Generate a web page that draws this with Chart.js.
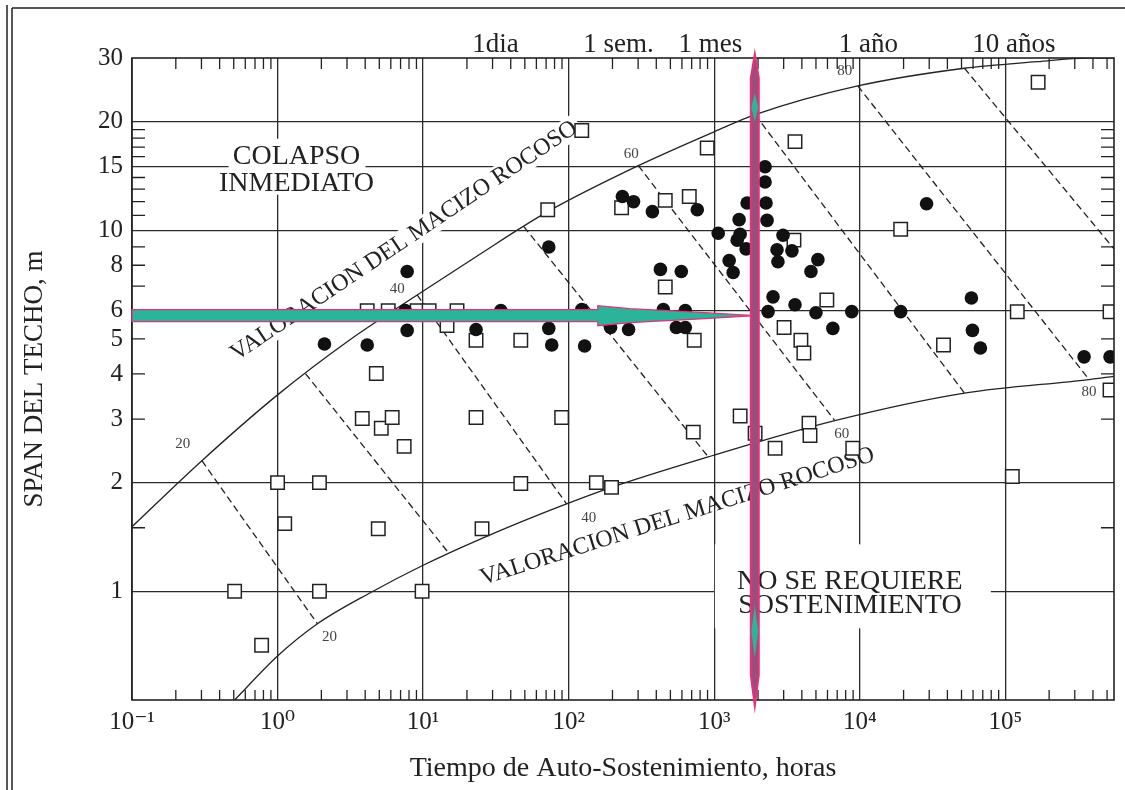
<!DOCTYPE html>
<html>
<head>
<meta charset="utf-8">
<title>Tiempo de Auto-Sostenimiento</title>
<script src="https://cdn.jsdelivr.net/npm/chart.js@4.4.1/dist/chart.umd.min.js"></script>
<style>
  html, body { margin: 0; padding: 0; background: #fff; }
  #wrap { position: relative; width: 1125px; height: 790px; }
</style>
</head>
<body>
<div id="wrap"><canvas id="chart"></canvas></div>
<script>
  // casos sin sostenimiento (cuadrados) y con sostenimiento (circulos)
  const squareHours = [123, 895, 3590, 168000, 71.8, 231, 461, 674, 19100, 3530, 5940, 120800, 524000, 3020, 3940, 4130, 37600, 524000, 1507, 1910, 4480, 4550, 2620, 8950, 111700, 461, 4.13, 5.76, 9.1, 11.0, 17.1, 14.6, 23.1, 46.9, 729, 4.77, 3.82, 5.16, 6.13, 7.41, 23.1, 89.5, 718, 46.9, 155, 197, 1.0, 1.94, 1.12, 4.92, 0.507, 1.94, 0.777, 25.4, 9.84];
  const squareSpan = [18.9, 16.9, 17.6, 25.7, 11.4, 11.55, 12.1, 12.4, 10.06, 9.39, 6.41, 5.95, 5.95, 5.38, 4.96, 4.57, 4.81, 3.61, 3.06, 2.74, 2.92, 2.70, 2.49, 2.49, 2.08, 6.96, 5.99, 5.99, 5.99, 5.99, 5.99, 5.45, 4.96, 4.96, 4.96, 4.01, 3.01, 2.83, 3.03, 2.52, 3.03, 3.03, 2.76, 1.99, 2.0, 1.94, 2.0, 2.0, 1.54, 1.49, 1.0, 1.0, 0.709, 1.49, 1.0];
  const circleHours = [234, 279, 376, 765, 2235, 2235, 1683, 2270, 1483, 2306, 1065, 1507, 1438, 1656, 73, 1267, 1349, 2970, 2700, 3420, 2740, 5155, 4620, 28770, 2535, 2344, 3590, 5000, 8810, 6530, 19090, 58480, 59430, 67400, 347600, 524000, 7.77, 427, 594, 7.53, 34.2, 123, 447, 633, 7.77, 23.1, 73, 194, 258, 549, 633, 4.13, 76.5, 128.7, 2.10];
  const circleSpan = [12.4, 12.0, 11.26, 11.4, 15.0, 13.6, 11.9, 11.9, 10.7, 10.65, 9.81, 9.75, 9.39, 8.88, 8.99, 8.24, 7.64, 9.69, 8.83, 8.77, 8.18, 8.29, 7.69, 11.84, 6.54, 5.95, 6.22, 5.91, 5.95, 5.35, 5.95, 6.49, 5.28, 4.72, 4.46, 4.46, 7.69, 7.79, 7.69, 5.99, 5.99, 6.03, 6.03, 5.99, 5.28, 5.31, 5.35, 5.38, 5.31, 5.38, 5.38, 4.81, 4.81, 4.78, 4.84];

  // limites de valoracion del macizo rocoso
  const upperHours = [0.1, 0.302, 1.0, 3.11, 9.1, 23.1, 71.8, 301, 1016, 1910, 9690, 52400, 165600, 364600, 558000];
  const upperSpan = [1.51, 2.30, 3.50, 4.96, 6.62, 8.45, 11.26, 15.1, 18.8, 20.9, 25.1, 28.1, 29.3, 30, 30];
  const lowerHours = [0.507, 1.0, 1.88, 4.40, 9.84, 25.4, 85.4, 197, 910, 6742, 52400, 376000, 558000];
  const lowerSpan = [0.5, 0.662, 0.813, 0.994, 1.177, 1.402, 1.713, 1.941, 2.357, 2.97, 3.54, 3.86, 3.94];

  // lineas de RMR constante
  const rmrValues = [20, 30, 40, 50, 60, 70, 80, 90];
  const rmrTopHours = [0.302, 1.555, 9.1, 49.2, 301, 1910, 9690, 52400];
  const rmrTopSpan = [2.30, 4.01, 6.62, 10.24, 15.1, 20.9, 25.1, 28.1];
  const rmrLowHours = [1.88, 15.07, 96.9, 910, 6742, 52400, 376000, 558000];
  const rmrLowSpan = [0.813, 1.273, 1.745, 2.357, 2.97, 3.54, 3.86, 8.88];

  const xTickValues = [0.1, 1, 10, 100, 1000, 10000, 100000];
  const xTickLabels = ['10⁻¹', '10⁰', '10¹', '10²', '10³', '10⁴', '10⁵'];
  const yTickValues = [1, 2, 3, 4, 5, 6, 8, 10, 15, 20, 30];
  const yGridValues = [1, 2, 6, 10, 15, 20];
  const yTickMarks = [1.5, 3, 4, 5, 7, 8, 9, 11, 12, 13, 14, 16, 17, 18, 19];

  const timeHours = [24, 168, 720, 8760, 87600];
  const timeLabels = ['1dia', '1 sem.', '1 mes', '1 año', '10 años'];

  // ejemplo marcado: 6 m de span, ~2000 horas
  const caseHours = 1900;
  const caseSpan = 5.8;

  const serif = "'Liberation Serif', 'DejaVu Serif', serif";
  const ink = '#222';
  const teal = '#2cb49a';
  const pink = '#e2337a';

  function font(size) {
    return size + 'px ' + serif;
  }

  function toPoints(xs, ys) {
    return xs.map((x, i) => ({ x, y: ys[i] }));
  }

  function lineSet(data, dashed) {
    return {
      data,
      showLine: true,
      pointRadius: 0,
      borderColor: ink,
      borderWidth: 1.3,
      borderDash: dashed ? [7, 4] : [],
      cubicInterpolationMode: dashed ? 'default' : 'monotone',
      fill: false,
      clip: 0,
    };
  }

  function boxedLines(ctx, lines, cx, cy, offsets, size, box) {
    ctx.fillStyle = '#fff';
    ctx.fillRect(cx + box[0], cy + box[1], box[2], box[3]);
    ctx.fillStyle = ink;
    ctx.font = font(size);
    ctx.textAlign = 'center';
    ctx.textBaseline = 'alphabetic';
    lines.forEach((line, i) => ctx.fillText(line, cx, cy + offsets[i]));
  }

  function rotatedText(ctx, text, px, py, angle, size, boxed) {
    ctx.save();
    ctx.translate(px, py);
    ctx.rotate((angle * Math.PI) / 180);
    ctx.font = font(size);
    const w = ctx.measureText(text).width;
    if (boxed) {
      ctx.fillStyle = '#fff';
      ctx.fillRect(-w / 2 - 4, -12, w + 8, 24);
    }
    ctx.fillStyle = ink;
    ctx.textAlign = 'center';
    ctx.textBaseline = 'middle';
    ctx.fillText(text, 0, 0);
    ctx.restore();
  }

  const decor = {
    id: 'decor',
    beforeDatasetsDraw(chart) {
      const { ctx, chartArea: area, scales } = chart;
      const x = scales.x;
      const y = scales.y;
      ctx.save();

      // marcas menores
      ctx.strokeStyle = ink;
      ctx.lineWidth = 1.3;
      ctx.beginPath();
      for (let d = -1; d <= 5; d++) {
        for (let m = 2; m <= 9; m++) {
          const v = m * Math.pow(10, d);
          if (v >= x.max) continue;
          const px = x.getPixelForValue(v);
          ctx.moveTo(px, area.bottom);
          ctx.lineTo(px, area.bottom - 10);
          ctx.moveTo(px, area.top);
          ctx.lineTo(px, area.top + 11);
        }
      }
      yTickMarks.forEach((v) => {
        const py = y.getPixelForValue(v);
        ctx.moveTo(area.left, py);
        ctx.lineTo(area.left + 13, py);
        ctx.moveTo(area.right, py);
        ctx.lineTo(area.right - 13, py);
      });
      ctx.stroke();

      // zonas
      boxedLines(ctx, ['COLAPSO', 'INMEDIATO'],
        x.getPixelForValue(1.35), y.getPixelForValue(14.9),
        [-4, 23], 28, [-68, -29, 137, 56]);
      boxedLines(ctx, ['NO SE REQUIERE', 'SOSTENIMIENTO'],
        x.getPixelForValue(8550), y.getPixelForValue(1.0),
        [-2, 22], 28, [-135, -47, 276, 84]);

      rotatedText(ctx, 'VALORACION DEL MACIZO ROCOSO',
        x.getPixelForValue(7.41), y.getPixelForValue(9.34), -33.9, 24, true);
      rotatedText(ctx, 'VALORACION DEL MACIZO ROCOSO',
        x.getPixelForValue(558), y.getPixelForValue(1.61), -17.6, 24, false);

      // etiquetas RMR
      const topOffsets = { 20: [-19, -17], 40: [-20, -6], 60: [-7, -12], 80: [-13, -15] };
      const lowOffsets = { 20: [12, 13], 40: [22, 14], 60: [7, 13], 80: [0, 13] };
      ctx.font = font(15);
      ctx.fillStyle = '#444';
      ctx.textAlign = 'center';
      ctx.textBaseline = 'middle';
      rmrValues.forEach((r, i) => {
        if (!topOffsets[r]) return;
        const tx = x.getPixelForValue(rmrTopHours[i]);
        const ty = y.getPixelForValue(rmrTopSpan[i]);
        ctx.fillText(String(r), tx + topOffsets[r][0], ty + topOffsets[r][1]);
        const lx = x.getPixelForValue(rmrLowHours[i]);
        const ly = y.getPixelForValue(rmrLowSpan[i]);
        ctx.fillText(String(r), lx + lowOffsets[r][0], ly + lowOffsets[r][1]);
      });

      // escala de tiempo arriba
      ctx.font = font(27);
      ctx.fillStyle = ink;
      ctx.textBaseline = 'alphabetic';
      timeHours.forEach((h, i) => {
        ctx.fillText(timeLabels[i], x.getPixelForValue(h) + 17, area.top - 6);
      });

      ctx.restore();
    },
    afterDatasetsDraw(chart) {
      const { ctx, chartArea: area, scales } = chart;
      const ax = scales.x.getPixelForValue(caseHours);
      const ay = scales.y.getPixelForValue(caseSpan);
      ctx.save();

      // marco del grafico
      ctx.strokeStyle = ink;
      ctx.lineWidth = 1.6;
      ctx.strokeRect(area.left, area.top, area.right - area.left, area.bottom - area.top);

      // marco de pagina
      ctx.lineWidth = 1.5;
      ctx.beginPath();
      ctx.moveTo(7, 5);
      ctx.lineTo(7, 790);
      ctx.moveTo(12, 8);
      ctx.lineTo(12, 790);
      ctx.moveTo(12, 8);
      ctx.lineTo(1125, 8);
      ctx.stroke();

      // flecha horizontal
      ctx.beginPath();
      ctx.moveTo(area.left, ay - 6);
      ctx.lineTo(ax - 157, ay - 6);
      ctx.lineTo(ax - 157, ay - 10);
      ctx.lineTo(ax - 125, ay - 7);
      ctx.lineTo(ax - 50, ay - 3);
      ctx.lineTo(ax, ay);
      ctx.lineTo(ax - 50, ay + 3);
      ctx.lineTo(ax - 125, ay + 7);
      ctx.lineTo(ax - 157, ay + 10);
      ctx.lineTo(ax - 157, ay + 6);
      ctx.lineTo(area.left, ay + 6);
      ctx.closePath();
      ctx.fillStyle = teal;
      ctx.fill();
      ctx.strokeStyle = pink;
      ctx.lineWidth = 1.3;
      ctx.stroke();

      // flecha vertical
      ctx.beginPath();
      ctx.moveTo(ax, area.top - 4);
      ctx.lineTo(ax + 4, area.top + 20);
      ctx.lineTo(ax + 4, area.bottom - 25);
      ctx.lineTo(ax, area.bottom + 6);
      ctx.lineTo(ax - 4, area.bottom - 25);
      ctx.lineTo(ax - 4, area.top + 20);
      ctx.closePath();
      ctx.fillStyle = '#9c4d7a';
      ctx.fill();
      ctx.strokeStyle = pink;
      ctx.lineWidth = 2;
      ctx.stroke();

      ctx.fillStyle = teal;
      [[area.top + 35, area.top + 64], [area.bottom - 95, area.bottom - 42]].forEach(([t, b]) => {
        const mid = (t + b) / 2;
        ctx.beginPath();
        ctx.moveTo(ax, t);
        ctx.lineTo(ax + 3.5, mid);
        ctx.lineTo(ax, b);
        ctx.lineTo(ax - 3.5, mid);
        ctx.closePath();
        ctx.fill();
      });

      ctx.restore();
    },
  };

  const datasets = [
    {
      label: 'Con sostenimiento',
      data: toPoints(circleHours, circleSpan),
      pointStyle: 'circle',
      pointRadius: 6.8,
      backgroundColor: '#111',
      borderColor: '#111',
      borderWidth: 0,
      clip: 0,
    },
    {
      label: 'Sin sostenimiento',
      data: toPoints(squareHours, squareSpan),
      pointStyle: 'rect',
      pointRadius: 9.5,
      backgroundColor: '#fff',
      borderColor: ink,
      borderWidth: 1.5,
      clip: 0,
    },
    lineSet(toPoints(upperHours, upperSpan), false),
    lineSet(toPoints(lowerHours, lowerSpan), false),
  ];

  rmrValues.forEach((r, i) => {
    datasets.push(lineSet([
      { x: rmrTopHours[i], y: rmrTopSpan[i] },
      { x: rmrLowHours[i], y: rmrLowSpan[i] },
    ], true));
  });

  new Chart(document.getElementById('chart'), {
    type: 'scatter',
    data: { datasets },
    plugins: [decor],
    options: {
      responsive: true,
      maintainAspectRatio: false,
      devicePixelRatio: 1,
      animation: false,
      events: [],
      layout: { padding: { top: 58, right: 8, bottom: 0, left: 0 } },
      plugins: {
        legend: { display: false },
        tooltip: { enabled: false },
      },
      scales: {
        x: {
          type: 'logarithmic',
          min: 0.1,
          max: 558000,
          afterBuildTicks: (axis) => {
            axis.ticks = xTickValues.map((v) => ({ value: v }));
          },
          afterFit: (axis) => {
            axis.height = 90;
          },
          ticks: {
            callback: (value, index) => xTickLabels[index],
            font: { family: serif, size: 25 },
            color: ink,
            padding: 7,
            autoSkip: false,
            maxRotation: 0,
          },
          grid: { color: '#2a2a2a', lineWidth: 1.3, drawTicks: false },
          border: { display: false },
          title: {
            display: true,
            text: 'Tiempo de Auto-Sostenimiento, horas',
            font: { family: serif, size: 28 },
            color: ink,
            padding: { top: 0, bottom: 5 },
          },
        },
        y: {
          type: 'logarithmic',
          min: 0.5,
          max: 30,
          afterBuildTicks: (axis) => {
            axis.ticks = yTickValues.map((v) => ({ value: v }));
          },
          afterFit: (axis) => {
            axis.width = 132;
          },
          ticks: {
            callback: (value) => String(value),
            font: { family: serif, size: 25 },
            color: ink,
            padding: 9,
            autoSkip: false,
          },
          grid: {
            color: (c) => (c.tick && yGridValues.includes(c.tick.value) ? '#2a2a2a' : 'rgba(0,0,0,0)'),
            lineWidth: 1.3,
            drawTicks: false,
          },
          border: { display: false },
          title: {
            display: true,
            text: 'SPAN DEL TECHO, m',
            font: { family: serif, size: 27 },
            color: ink,
            padding: { top: 19, bottom: 0 },
          },
        },
      },
    },
  });
</script>
</body>
</html>
